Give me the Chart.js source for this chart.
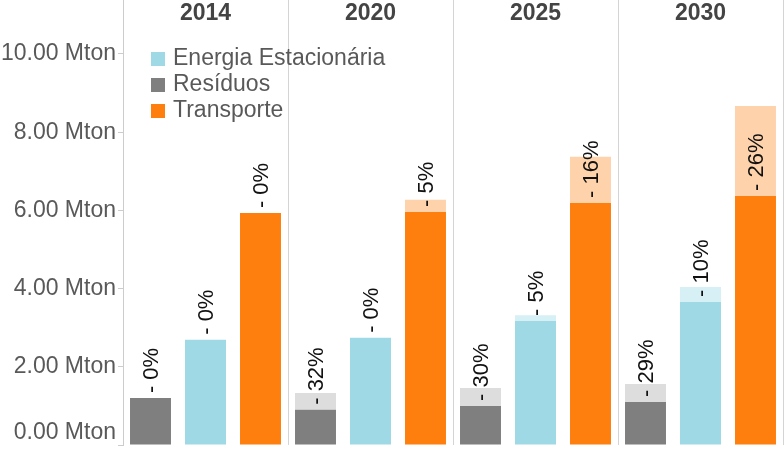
<!DOCTYPE html>
<html>
<head>
<meta charset="utf-8">
<script src="https://cdn.jsdelivr.net/npm/chart.js@4.4.0/dist/chart.umd.min.js"></script>
<style>
  body { margin: 0; background: #fff; }
</style>
</head>
<body>
<canvas id="emissoes" width="784" height="453"></canvas>
<script>
// anos (painéis)
const years = ['2014', '2020', '2025', '2030'];

// valores em Mton: parte escura = cenário com redução, total = cenário de referência
const residuosBase = [1.20, 0.90, 1.00, 1.10];
const residuosTotal = [1.20, 1.33, 1.46, 1.56];
const energiaBase = [2.69, 2.74, 3.17, 3.66];
const energiaTotal = [2.69, 2.74, 3.32, 4.04];
const transporteBase = [5.93, 5.96, 6.19, 6.37];
const transporteTotal = [5.93, 6.27, 7.37, 8.67];

// rótulos de redução (%)
const residuosPct = [0, 32, 30, 29];
const energiaPct = [0, 0, 5, 10];
const transportePct = [0, 5, 16, 26];

const yTicks = [0, 2, 4, 6, 8, 10];

const legendNames = ['Energia Estacionária', 'Resíduos', 'Transporte'];
const legendColors = ['#9fd9e6', '#7f7f7f', '#ff7f0e'];

const diff = (tot, base) => tot.map((v, i) => +(v - base[i]).toFixed(2));

const data = {
  labels: years,
  datasets: [
    { label: 'Resíduos', data: residuosBase, backgroundColor: '#7f7f7f', stack: 'res', pct: residuosPct },
    { label: 'Resíduos (potencial)', data: diff(residuosTotal, residuosBase), backgroundColor: '#dddddd', stack: 'res' },
    { label: 'Energia Estacionária', data: energiaBase, backgroundColor: '#9fd9e6', stack: 'ene', pct: energiaPct },
    { label: 'Energia (potencial)', data: diff(energiaTotal, energiaBase), backgroundColor: '#d6f0f6', stack: 'ene' },
    { label: 'Transporte', data: transporteBase, backgroundColor: '#ff7f0e', stack: 'tra', pct: transportePct },
    { label: 'Transporte (potencial)', data: diff(transporteTotal, transporteBase), backgroundColor: '#fed3ac', stack: 'tra' }
  ]
};

const FONT = '"Liberation Sans", Arial, sans-serif';

// rótulos do eixo Y, anos, legenda e percentagens
const extras = {
  id: 'extras',
  afterDatasetsDraw(chart) {
    const ctx = chart.ctx;
    ctx.save();
    ctx.fillStyle = '#111';
    ctx.font = '22px ' + FONT;
    ctx.textAlign = 'left';
    ctx.textBaseline = 'middle';
    chart.data.datasets.forEach((ds, di) => {
      if (!ds.pct) return;
      chart.getDatasetMeta(di).data.forEach((bar, i) => {
        ctx.save();
        ctx.translate(bar.x + 1, bar.y - 5);
        ctx.rotate(-Math.PI / 2);
        ctx.fillText('- ' + ds.pct[i] + '%', 0, 0);
        ctx.restore();
      });
    });
    ctx.restore();
  },
  afterDraw(chart) {
    const ctx = chart.ctx;
    const area = chart.chartArea;
    const y = chart.scales.y;
    const x = chart.scales.x;
    ctx.save();

    // eixo Y
    ctx.fillStyle = '#595959';
    ctx.font = '23px ' + FONT;
    ctx.textAlign = 'right';
    ctx.textBaseline = 'middle';
    yTicks.forEach(v => {
      const py = Math.min(y.getPixelForValue(v), area.bottom - 12);
      ctx.fillText(v.toFixed(2) + ' Mton', area.left - 7, py);
    });

    // anos
    ctx.fillStyle = '#444';
    ctx.font = 'bold 23px ' + FONT;
    ctx.textAlign = 'center';
    chart.data.labels.forEach((lab, i) => {
      ctx.fillText(lab, x.getPixelForValue(i), 14);
    });

    // legenda
    ctx.font = '23px ' + FONT;
    ctx.textAlign = 'left';
    legendNames.forEach((name, i) => {
      const cy = 59 + i * 26;
      ctx.fillStyle = legendColors[i];
      ctx.fillRect(151, cy - 7, 14, 14);
      ctx.fillStyle = '#595959';
      ctx.fillText(name, 173, cy);
    });
    ctx.restore();
  }
};

new Chart(document.getElementById('emissoes'), {
  type: 'bar',
  data: data,
  plugins: [extras],
  options: {
    responsive: false,
    animation: false,
    devicePixelRatio: 1,
    layout: { padding: { top: 0, right: 1, bottom: 8, left: 0 } },
    datasets: {
      bar: { categoryPercentage: 1.0, barPercentage: 0.745, borderWidth: 0 }
    },
    plugins: {
      legend: { display: false },
      tooltip: { enabled: false }
    },
    scales: {
      x: {
        stacked: true,
        position: 'top',
        ticks: { display: false },
        grid: { offset: true, drawTicks: false, color: '#d4d4d4', lineWidth: 1 },
        border: { display: false },
        afterFit(scale) { scale.height = 0; }
      },
      y: {
        stacked: true,
        min: 0,
        max: 11.38,
        ticks: { display: false, stepSize: 2, includeBounds: false },
        grid: { drawOnChartArea: false, drawTicks: true, tickLength: 5, color: '#cccccc' },
        border: { display: true, color: '#cccccc' },
        afterFit(scale) { scale.width = 123; scale.paddingTop = 0; scale.paddingBottom = 0; }
      }
    }
  }
});
</script>
</body>
</html>
